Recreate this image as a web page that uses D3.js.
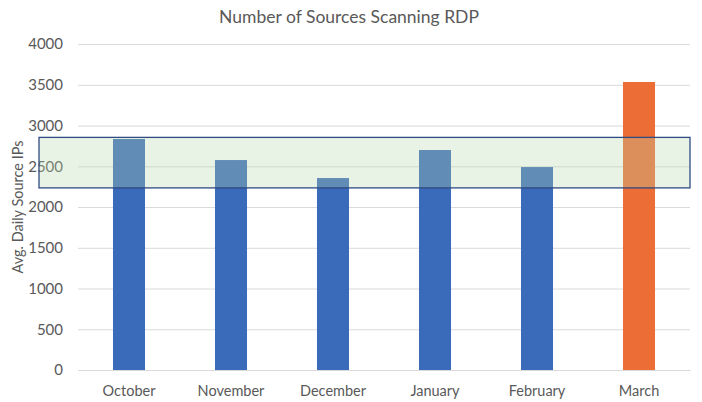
<!DOCTYPE html>
<html><head><meta charset="utf-8">
<script src="https://cdn.jsdelivr.net/npm/d3@7"></script>
<style>body{margin:0;background:#fff}svg{display:block}text{font-family:Lato,"Open Sans",sans-serif}</style>
</head><body><div id="c"></div>
<script>
const months = ["October","November","December","January","February","March"];
const values = [2835,2577,2356,2700,2491,3535];
const barColors = ["#3A6ABA","#3A6ABA","#3A6ABA","#3A6ABA","#3A6ABA","#EC6E36"];
const yTicks = [0,500,1000,1500,2000,2500,3000,3500,4000];
const bandRange = [2235,2855];
const title = "Number of Sources Scanning RDP";
const yTitle = "Avg. Daily Source IPs";

const W=702,H=402;
const svg=d3.select("#c").append("svg").attr("width",W).attr("height",H);
const x=d3.scaleBand().domain(months).range([78,690]).paddingInner(0.686).paddingOuter(0.343);
const y=d3.scaleLinear().domain([0,4000]).range([370,44.1]);

svg.append("text").attr("x",349).attr("y",23).attr("text-anchor","middle")
  .attr("font-size",17.5).attr("fill","#595959").text(title);

const yAxis=svg.append("g").attr("transform","translate(78,0)")
  .call(d3.axisLeft(y).tickValues(yTicks).tickSize(-(690-78)).tickPadding(15).tickFormat(d3.format("d")));
yAxis.select(".domain").remove();
yAxis.selectAll("line").attr("stroke","#D9D9D9").attr("stroke-width",1);
yAxis.selectAll("text").attr("font-size",15).attr("fill","#595959").attr("font-family","Lato,'Open Sans',sans-serif");

svg.append("g").selectAll("rect").data(months).join("rect")
  .attr("x",d=>x(d)).attr("width",x.bandwidth())
  .attr("y",(d,i)=>y(values[i])).attr("height",(d,i)=>y(0)-y(values[i]))
  .attr("fill",(d,i)=>barColors[i]);

const xAxis=svg.append("g").attr("transform","translate(0,370)").call(d3.axisBottom(x).tickSize(0).tickPadding(16));
xAxis.select(".domain").attr("stroke","#D9D9D9");
xAxis.selectAll("text").attr("font-size",14.5).attr("fill","#595959").attr("font-family","Lato,'Open Sans',sans-serif");

svg.append("rect").attr("x",39).attr("width",690-39)
  .attr("y",y(bandRange[1])).attr("height",y(bandRange[0])-y(bandRange[1]))
  .attr("fill","rgb(185,217,173)").attr("fill-opacity",0.315)
  .attr("stroke","#2F4B82").attr("stroke-width",1.3);

svg.append("text").attr("transform","translate(23,207) rotate(-90)").attr("text-anchor","middle")
  .attr("font-size",14.5).attr("fill","#595959").text(yTitle);
</script></body></html>
